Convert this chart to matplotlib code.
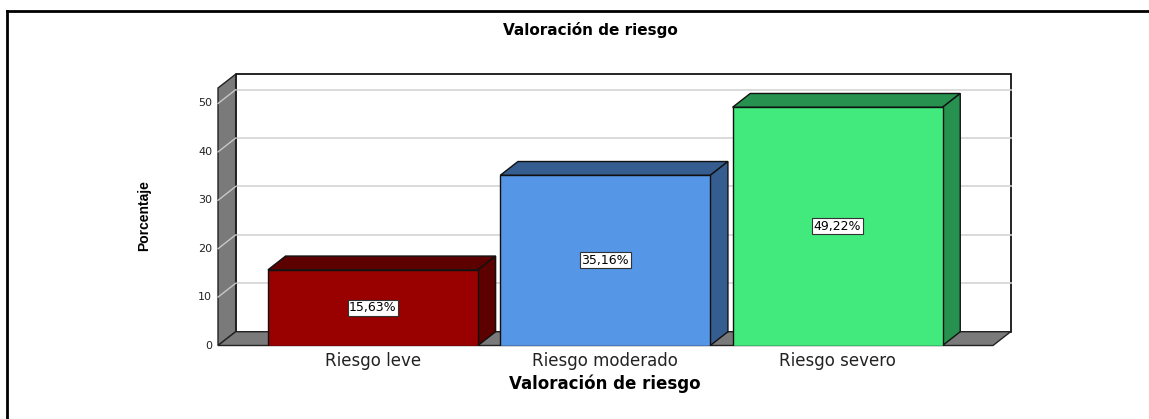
import matplotlib.pyplot as plt
from matplotlib.patches import Polygon
from matplotlib.lines import Line2D

categories = ["Riesgo leve", "Riesgo moderado", "Riesgo severo"]
values = [15.63, 35.16, 49.22]
labels = ["15,63%", "35,16%", "49,22%"]
yticks = [0, 10, 20, 30, 40, 50]

front = ["#990000", "#5596e6", "#42ea7e"]
side = ["#5c0000", "#365d8f", "#27914f"]

# wide sans, the original text looks stretched sideways
plt.rcParams['font.family'] = ['DejaVu Sans']

fig = plt.figure(figsize=(11.49, 4.19), dpi=100)
ax = fig.add_axes([218 / 1149, 73.5 / 419, 775 / 1149, 257.5 / 419])
xmin, xmax = -0.667, 2.669
ymax = 53.2
ax.set_xlim(xmin, xmax)
ax.set_ylim(0, ymax)
ax.axis("off")

# depth of the fake 3D box in data units
dx, dy = 0.076, 2.85
width = 0.904
grey = "#7a7a7a"

# back wall
ax.add_patch(Polygon([(xmin + dx, dy), (xmax + dx, dy), (xmax + dx, ymax + dy),
                      (xmin + dx, ymax + dy)], closed=True, facecolor="white",
                     edgecolor="black", lw=1.2, clip_on=False, zorder=1))
# left wall
ax.add_patch(Polygon([(xmin, 0), (xmin + dx, dy), (xmin + dx, ymax + dy), (xmin, ymax)],
                     closed=True, facecolor=grey, edgecolor="#222222", lw=1,
                     clip_on=False, zorder=2))
# floor
ax.add_patch(Polygon([(xmin, 0), (xmax, 0), (xmax + dx, dy), (xmin + dx, dy)],
                     closed=True, facecolor=grey, edgecolor="#222222", lw=1,
                     clip_on=False, zorder=2))

for t in yticks[1:]:
    ax.plot([xmin + dx, xmax + dx], [t + dy, t + dy], color="#d4d4d4", lw=1.2,
            zorder=1.5, clip_on=False)
    ax.plot([xmin, xmin + dx], [t, t + dy], color="#c8c8c8", lw=1, zorder=2.5,
            clip_on=False)
for t in yticks:
    ax.text(xmin - 0.025, t, str(t), ha="right", va="center", fontsize=8,
            color="#222222")

for i, v in enumerate(values):
    x0, x1 = i - width / 2, i + width / 2
    ax.bar(i, v, width=width, color=front[i], edgecolor="#111111", lw=1, zorder=4)
    ax.add_patch(Polygon([(x0, v), (x1, v), (x1 + dx, v + dy), (x0 + dx, v + dy)],
                         closed=True, facecolor=side[i], edgecolor="#111111", lw=1,
                         zorder=3, clip_on=False))
    ax.add_patch(Polygon([(x1, 0), (x1 + dx, dy), (x1 + dx, v + dy), (x1, v)],
                         closed=True, facecolor=side[i], edgecolor="#111111", lw=1,
                         zorder=3, clip_on=False))
    ax.text(i, v / 2, labels[i], ha="center", va="center", fontsize=9, zorder=5,
            bbox=dict(boxstyle="square,pad=0.12", facecolor="white",
                      edgecolor="#333333", lw=0.8))
    ax.text(i, -1.3, categories[i], ha="center", va="top", fontsize=12,
            color="#222222")

fig.text(605 / 1149, 1 - 384 / 419, "Valoración de riesgo", ha="center",
         va="center", fontsize=12, fontweight="bold")
fig.text(590 / 1149, 1 - 30 / 419, "Valoración de riesgo", ha="center",
         va="center", fontsize=11, fontweight="bold")
fig.text(144 / 1149, 1 - 216 / 419, "Porcentaje", ha="center", va="center",
         rotation=90, fontsize=10, fontweight="bold",
         family=['Liberation Sans', 'DejaVu Sans'])

# outer frame: only top and left edges show
fig.add_artist(Line2D([7 / 1149, 7 / 1149], [0, 1 - 11 / 419], color="black", lw=2,
                      transform=fig.transFigure))
fig.add_artist(Line2D([7 / 1149, 1], [1 - 11 / 419, 1 - 11 / 419], color="black",
                      lw=2, transform=fig.transFigure))

fig.savefig("out.png", dpi=100)
